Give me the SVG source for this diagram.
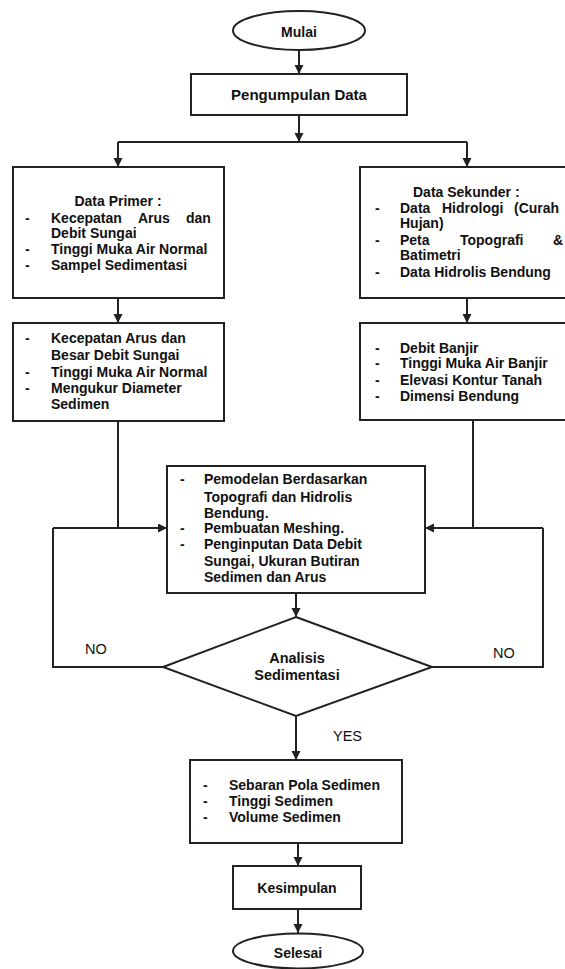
<svg xmlns="http://www.w3.org/2000/svg" width="565" height="969" viewBox="0 0 565 969">
<defs>
<marker id="ah" markerUnits="userSpaceOnUse" markerWidth="10" markerHeight="10" refX="9" refY="4.5" orient="auto">
<path d="M0,0 L9,4.5 L0,9 z" fill="#222"/>
</marker>
<style>
.box{fill:#fff;stroke:#222;stroke-width:2}
.ln{fill:none;stroke:#222;stroke-width:2}
.ar{fill:none;stroke:#222;stroke-width:2;marker-end:url(#ah)}
text{font-family:"Liberation Sans",Arial,sans-serif;font-size:14px;font-weight:bold;fill:#111}
.c{text-anchor:middle}
.r{font-weight:normal;font-size:14.5px}
</style>
</defs>
<rect width="565" height="969" fill="#fff"/>
<g id="connectors">
<line class="ar" x1="299" y1="50" x2="299" y2="74"/>
<line class="ar" x1="299" y1="115" x2="299" y2="142"/>
<line class="ln" x1="118" y1="142" x2="467" y2="142"/>
<line class="ar" x1="118" y1="142" x2="118" y2="167"/>
<line class="ar" x1="467" y1="142" x2="467" y2="167"/>
<line class="ar" x1="118" y1="298" x2="118" y2="323"/>
<line class="ar" x1="467" y1="298" x2="467" y2="323"/>
<polyline class="ln" points="118,421 118,528"/>
<polyline class="ar" points="53,528 167,528"/>
<polyline class="ln" points="473,420 473,528"/>
<polyline class="ar" points="543,528 425,528"/>
<polyline class="ln" points="163,667 53,667 53,528"/>
<polyline class="ln" points="432,667 543,667 543,528"/>
<line class="ar" x1="296" y1="593" x2="296" y2="617"/>
<line class="ar" x1="296" y1="716" x2="296" y2="760"/>
<line class="ar" x1="298" y1="843" x2="298" y2="866"/>
<line class="ar" x1="298" y1="909" x2="298" y2="933"/>
<text class="r" x="85" y="654">NO</text>
<text class="r" x="493" y="658">NO</text>
<text class="r" x="333" y="741">YES</text>
</g>
<g id="mulai">
<ellipse class="box" cx="299" cy="30.5" rx="66" ry="19.5"/>
<text class="c" x="299" y="37">Mulai</text>
</g>
<g id="pengumpulan">
<rect class="box" x="191" y="74" width="216" height="41"/>
<text class="c" x="299" y="100" style="font-size:15px">Pengumpulan Data</text>
</g>
<g id="primer">
<rect class="box" x="13" y="167" width="211" height="131"/>
<text class="c" x="118" y="206">Data Primer :</text>
<text x="25" y="223">-</text>
<text y="223"><tspan x="51">Kecepatan</tspan><tspan x="138">Arus</tspan><tspan x="186">dan</tspan></text>
<text x="51" y="238">Debit Sungai</text>
<text x="25" y="254">-</text>
<text x="51" y="254">Tinggi Muka Air Normal</text>
<text x="25" y="270">-</text>
<text x="51" y="270">Sampel Sedimentasi</text>
</g>
<g id="sekunder">
<rect class="box" x="360" y="167" width="207" height="131"/>
<text x="413" y="197">Data Sekunder :</text>
<text x="375" y="213">-</text>
<text y="213"><tspan x="400">Data</tspan><tspan x="442">Hidrologi</tspan><tspan x="514">(Curah</tspan></text>
<text x="400" y="228">Hujan)</text>
<text x="375" y="245">-</text>
<text y="245"><tspan x="400">Peta</tspan><tspan x="460">Topografi</tspan><tspan x="553">&amp;</tspan></text>
<text x="400" y="260">Batimetri</text>
<text x="375" y="277">-</text>
<text x="400" y="277">Data Hidrolis Bendung</text>
</g>
<g id="primer2">
<rect class="box" x="13" y="323" width="211" height="98"/>
<text x="25" y="343">-</text>
<text x="51" y="343">Kecepatan Arus dan</text>
<text x="51" y="360">Besar Debit Sungai</text>
<text x="25" y="377">-</text>
<text x="51" y="377">Tinggi Muka Air Normal</text>
<text x="25" y="393">-</text>
<text x="51" y="393">Mengukur Diameter</text>
<text x="51" y="409">Sedimen</text>
</g>
<g id="sekunder2">
<rect class="box" x="360" y="323" width="207" height="97"/>
<text x="375" y="353">-</text>
<text x="400" y="353">Debit Banjir</text>
<text x="375" y="368">-</text>
<text x="400" y="368">Tinggi Muka Air Banjir</text>
<text x="375" y="385">-</text>
<text x="400" y="385">Elevasi Kontur Tanah</text>
<text x="375" y="401">-</text>
<text x="400" y="401">Dimensi Bendung</text>
</g>
<g id="pemodelan">
<rect class="box" x="167" y="466" width="258" height="127"/>
<text x="180" y="484">-</text>
<text x="204" y="484">Pemodelan Berdasarkan</text>
<text x="204" y="502">Topografi dan Hidrolis</text>
<text x="204" y="518">Bendung.</text>
<text x="180" y="533">-</text>
<text x="204" y="533">Pembuatan Meshing.</text>
<text x="180" y="549">-</text>
<text x="204" y="549">Penginputan Data Debit</text>
<text x="204" y="566">Sungai, Ukuran Butiran</text>
<text x="204" y="582">Sedimen dan Arus</text>
</g>
<g id="analisis">
<polygon class="box" points="296,617 432,667 296,716 163,667"/>
<text class="c" x="297" y="663" style="font-size:14.5px">Analisis</text>
<text class="c" x="297" y="680" style="font-size:14.5px">Sedimentasi</text>
</g>
<g id="hasil">
<rect class="box" x="190" y="760" width="212" height="83"/>
<text x="203" y="790">-</text>
<text x="229" y="790">Sebaran Pola Sedimen</text>
<text x="203" y="806">-</text>
<text x="229" y="806">Tinggi Sedimen</text>
<text x="203" y="822">-</text>
<text x="229" y="822">Volume Sedimen</text>
</g>
<g id="kesimpulan">
<rect class="box" x="233" y="866" width="128" height="43"/>
<text class="c" x="297" y="893">Kesimpulan</text>
</g>
<g id="selesai">
<ellipse class="box" cx="298" cy="951" rx="65" ry="17.5"/>
<text class="c" x="298" y="958">Selesai</text>
</g>
</svg>
